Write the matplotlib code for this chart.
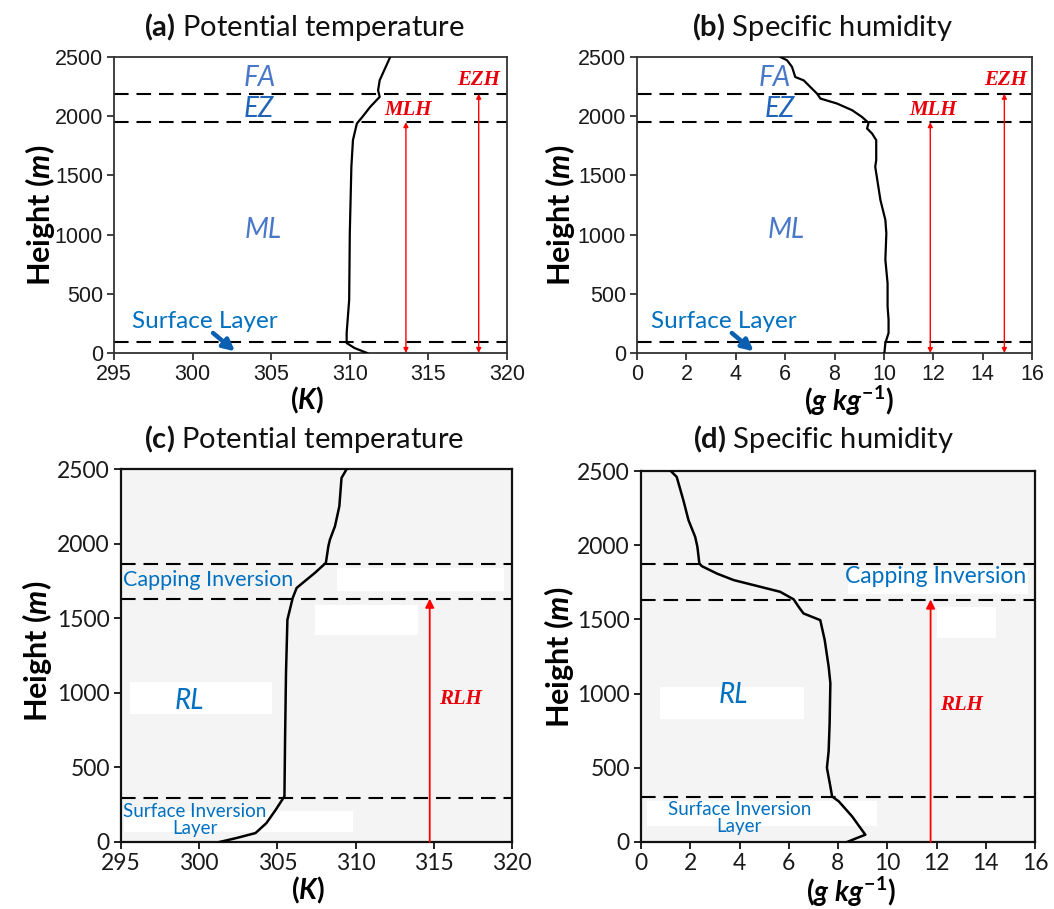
import matplotlib
matplotlib.use("Agg")
import matplotlib.pyplot as plt
from matplotlib.patches import Rectangle

plt.rcParams['mathtext.fontset'] = 'custom'
plt.rcParams['mathtext.rm'] = 'Lato:bold'
plt.rcParams['mathtext.it'] = 'Lato:bold:italic'
plt.rcParams['mathtext.bf'] = 'Lato:bold'

# ---------------- profiles ----------------
# (a) daytime potential temperature
height_a = [0, 42, 84, 169, 449, 1011, 1573, 1798, 1854, 1938, 1994, 2079, 2163, 2219, 2303, 2500]
theta_a = [311.1, 310.3, 309.8, 309.8, 309.96, 310.0, 310.1, 310.2, 310.3, 310.45, 310.8, 311.3, 311.9, 311.8, 311.9, 312.57]

# (b) daytime specific humidity
height_b = [0, 84, 169, 281, 393, 590, 787, 1011, 1124, 1292, 1573, 1629, 1798, 1854, 1896, 1944,
            1994, 2051, 2107, 2149, 2191, 2247, 2303, 2331, 2416, 2472, 2500]
q_b = [10.02, 10.06, 10.19, 10.19, 10.15, 10.15, 10.06, 10.1, 10.06, 9.86, 9.65, 9.69, 9.69, 9.52, 9.32, 9.38,
       9.11, 8.71, 8.1, 7.43, 7.29, 7.02, 6.75, 6.41, 6.28, 6.08, 5.81]

# (c) night-time potential temperature
height_c = [0, 27, 60, 127, 217, 306, 686, 1133, 1490, 1636, 1703, 1804, 1871, 1983, 2027, 2116, 2250, 2440, 2500]
theta_c = [301.3, 302.4, 303.6, 304.3, 304.9, 305.45, 305.49, 305.55, 305.64, 305.98, 306.23, 307.4, 308.1,
           308.26, 308.36, 308.68, 308.96, 309.1, 309.43]

# (d) night-time specific humidity
height_d = [0, 27, 49, 173, 274, 307, 374, 500, 612, 800, 1070, 1182, 1361, 1495, 1540, 1585, 1635, 1686,
            1720, 1765, 1809, 1859, 1877, 1989, 2056, 2168, 2303, 2460, 2500]
q_d = [8.37, 8.77, 9.11, 8.57, 8.03, 7.76, 7.69, 7.55, 7.62, 7.66, 7.69, 7.62, 7.46, 7.28, 6.6, 6.4, 6.2, 5.65,
       4.84, 3.76, 3.08, 2.47, 2.37, 2.29, 2.2, 1.93, 1.72, 1.45, 1.21]

# layer boundaries (m)
day_levels = [90, 1950, 2190]
mlh_day, ezh_day = 1950, 2190
night_levels_c = [295, 1631, 1865]
night_levels_d = [303, 1634, 1872]
rlh_c, rlh_d = 1631, 1634

# arrow positions on the x axis
mlh_x = {'a': 313.57, 'b': 11.88}
ezh_x = {'a': 318.2, 'b': 14.88}
rlh_x = {'c': 314.74, 'd': 11.76}

theta_ticks = [295, 300, 305, 310, 315, 320]
q_ticks = [0, 2, 4, 6, 8, 10, 12, 14, 16]
h_ticks = [0, 500, 1000, 1500, 2000, 2500]

W, H = 1054, 909
fig = plt.figure(figsize=(W / 100, H / 100), dpi=100)
fig.patch.set_facecolor('white')


def px_axes(x0, y0, x1, y1):
    return fig.add_axes([x0 / W, 1 - y1 / H, (x1 - x0) / W, (y1 - y0) / H])


def ftext(x, y, s, **kw):
    fig.text(x / W, 1 - y / H, s, **kw)


BLUE = '#0070C0'
LBLUE = '#4A78C8'
RED = '#FF0000'
TXTRED = '#E8000B'

ax_a = px_axes(114, 57, 507, 353)
ax_b = px_axes(637, 57, 1032, 353)
ax_c = px_axes(121, 469, 512, 842)
ax_d = px_axes(641, 471, 1035, 842)


def style(ax, xlim, xticks, family, frame_color, frame_lw, face, size):
    ax.set_xlim(*xlim)
    ax.set_ylim(0, 2500)
    ax.set_xticks(xticks)
    ax.set_yticks(h_ticks)
    ax.set_facecolor(face)
    for sp in ax.spines.values():
        sp.set_color(frame_color)
        sp.set_linewidth(frame_lw)
    ax.tick_params(direction='out', length=5, width=1.3, color=frame_color,
                   labelsize=size, labelcolor='#1a1a1a', pad=3)
    for lab in ax.get_xticklabels() + ax.get_yticklabels():
        lab.set_fontfamily(family)


style(ax_a, (295, 320), theta_ticks, 'Liberation Sans', '#333333', 1.3, 'white', 15.5)
style(ax_b, (0, 16), q_ticks, 'Liberation Sans', '#333333', 1.3, 'white', 15.5)
style(ax_c, (295, 320), theta_ticks, 'Lato', '#111111', 1.6, '#f4f4f4', 16.5)
style(ax_d, (0, 16), q_ticks, 'Lato', '#111111', 1.6, '#f4f4f4', 16.5)

DASH = (0, (7, 3.8))
RED_TXT_KW = dict(color=TXTRED, fontsize=15, fontfamily='Liberation Serif',
                  fontweight='bold', fontstyle='italic', ha='center', va='center')

# ---------- top row: daytime ----------
for ax, key, x, y in [(ax_a, 'a', theta_a, height_a), (ax_b, 'b', q_b, height_b)]:
    ax.plot(x, y, color='black', lw=1.6, zorder=3)
    for lev in day_levels:
        ax.axhline(lev, color='black', lw=1.5, ls=DASH, zorder=2)
    for xv, top in [(mlh_x[key], mlh_day), (ezh_x[key], ezh_day)]:
        ax.annotate('', xy=(xv, top), xytext=(xv, 0),
                    arrowprops=dict(arrowstyle='<|-|>', color=RED, lw=1.0,
                                    mutation_scale=7, shrinkA=0, shrinkB=0), zorder=4)

ax_a.text(313.7, 2050, 'MLH', **RED_TXT_KW)
ax_a.text(318.2, 2303, 'EZH', **RED_TXT_KW)
ax_b.text(11.99, 2050, 'MLH', **RED_TXT_KW)
ax_b.text(14.92, 2303, 'EZH', **RED_TXT_KW)

for ax, xs in [(ax_a, (304.3, 304.2, 304.5)), (ax_b, (5.6, 5.78, 6.05))]:
    ax.text(xs[0], 2326, 'FA', color=LBLUE, fontsize=20, fontfamily='Lato', fontstyle='italic',
            ha='center', va='center')
    ax.text(xs[1], 2065, 'EZ', color='#1F64B8', fontsize=20, fontfamily='Lato', fontstyle='italic',
            ha='center', va='center')
    ax.text(xs[2], 1039, 'ML', color=LBLUE, fontsize=20, fontfamily='Lato', fontstyle='italic',
            ha='center', va='center')

ax_a.text(300.8, 267, 'Surface Layer', color=BLUE, fontsize=17.5, fontfamily='Lato',
          ha='center', va='center')
ax_a.annotate('', xy=(302.7, 14), xytext=(301.3, 169),
              arrowprops=dict(arrowstyle='-|>', color='#0B5FB0', lw=3.2, mutation_scale=17,
                              shrinkA=0, shrinkB=0), zorder=4)
ax_b.text(3.5, 267, 'Surface Layer', color=BLUE, fontsize=17.5, fontfamily='Lato',
          ha='center', va='center')
ax_b.annotate('', xy=(4.73, 14), xytext=(3.84, 169),
              arrowprops=dict(arrowstyle='-|>', color='#0B5FB0', lw=3.2, mutation_scale=17,
                              shrinkA=0, shrinkB=0), zorder=4)

# ---------- bottom row: night-time ----------
boxes_c = [(308.8, 1681, 10.7, 157), (307.4, 1390, 6.6, 201), (295.6, 860, 9.04, 210),
           (295.2, 65, 14.65, 140)]
boxes_d = [(0.77, 827, 5.83, 216), (12.03, 1372, 2.37, 213), (8.4, 1670, 7.3, 173),
           (0.23, 110, 9.36, 164)]
for ax, boxes in [(ax_c, boxes_c), (ax_d, boxes_d)]:
    for (x0, y0, w, h) in boxes:
        ax.add_patch(Rectangle((x0, y0), w, h, facecolor='white', edgecolor='none', zorder=0.5))

for ax, x, y, levels, top, key in [(ax_c, theta_c, height_c, night_levels_c, rlh_c, 'c'),
                                   (ax_d, q_d, height_d, night_levels_d, rlh_d, 'd')]:
    ax.plot(x, y, color='black', lw=1.8, zorder=3)
    for lev in levels:
        ax.axhline(lev, color='black', lw=1.5, ls=DASH, zorder=2)
    ax.annotate('', xy=(rlh_x[key], top), xytext=(rlh_x[key], 0),
                arrowprops=dict(arrowstyle='-|>', color=RED, lw=1.3, mutation_scale=13,
                                shrinkA=0, shrinkB=0), zorder=4)

ax_c.text(316.7, 958, 'RLH', **RED_TXT_KW)
ax_d.text(13.0, 924, 'RLH', **RED_TXT_KW)

ax_c.text(299.4, 943, 'RL', color=BLUE, fontsize=20, fontfamily='Lato', fontstyle='italic',
          ha='center', va='center')
ax_d.text(3.76, 991, 'RL', color=BLUE, fontsize=20, fontfamily='Lato', fontstyle='italic',
          ha='center', va='center')
ax_c.text(300.6, 1754, 'Capping Inversion', color=BLUE, fontsize=15.5, fontfamily='Lato',
          ha='center', va='center')
ax_d.text(11.96, 1787, 'Capping Inversion', color=BLUE, fontsize=16.5, fontfamily='Lato',
          ha='center', va='center')
ax_c.text(299.7, 150, 'Surface Inversion\nLayer', color=BLUE, fontsize=13.5, fontfamily='Lato',
          ha='center', va='center', linespacing=1.0)
ax_d.text(3.99, 165, 'Surface Inversion\nLayer', color=BLUE, fontsize=13.5, fontfamily='Lato',
          ha='center', va='center', linespacing=1.0)

# ---------- titles and axis labels ----------
title_kw = dict(fontsize=21, fontfamily='Lato', ha='center', va='center', color='#111111')
ftext(304, 27, r'$\mathbf{(a)}$ Potential temperature', **title_kw)
ftext(822, 27, r'$\mathbf{(b)}$ Specific humidity', **title_kw)
ftext(304, 439, r'$\mathbf{(c)}$ Potential temperature', **title_kw)
ftext(823, 439, r'$\mathbf{(d)}$ Specific humidity', **title_kw)

ylab_kw = dict(fontsize=22, fontfamily='Lato', fontweight='bold', rotation=90,
               ha='center', va='center', color='black')
ftext(40, 215, r'Height ($m$)', **ylab_kw)
ftext(560, 215, r'Height ($m$)', **ylab_kw)
ftext(37, 651, r'Height ($m$)', **ylab_kw)
ftext(559, 657, r'Height ($m$)', **ylab_kw)

xlab_kw = dict(fontsize=20, fontfamily='Lato', fontweight='bold', ha='center', va='center',
               color='black')
ftext(307, 400, r'($K$)', **xlab_kw)
ftext(849, 401, r'($g\ kg^{-1}$)', **xlab_kw)
ftext(308, 890, r'($K$)', **xlab_kw)
ftext(851, 892, r'($g\ kg^{-1}$)', **xlab_kw)

fig.savefig('out.png', dpi=100)
